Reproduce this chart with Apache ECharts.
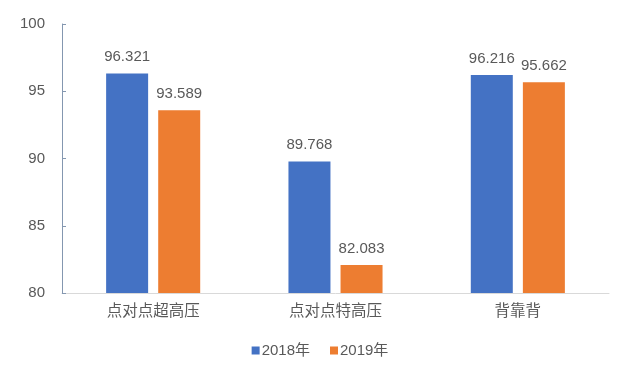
<!DOCTYPE html>
<html><head><meta charset="utf-8">
<script src="https://cdn.jsdelivr.net/npm/echarts@6/dist/echarts.min.js"></script>
<style>html,body{margin:0;padding:0;background:#fff}#c{width:640px;height:365px}</style>
</head><body><div id="c"></div>
<script>
const categories = ['点对点超高压', '点对点特高压', '背靠背'];
const seriesNames = ['2018年', '2019年'];
const values2018 = [96.321, 89.768, 96.216];
const values2019 = [93.589, 82.083, 95.662];
const yTicks = [80, 85, 90, 95, 100];

const FONT = "'Liberation Sans','Noto Sans CJK SC',sans-serif";
const chart = echarts.init(document.getElementById('c'), null, {renderer: 'canvas'});
const lbl = {show: true, position: 'top', distance: 9, color: '#595959', fontSize: 15, fontFamily: FONT,
  formatter: p => p.value.toFixed(3)};
chart.setOption({
  animation: false,
  textStyle: {fontFamily: FONT},
  grid: {left: 62, right: 31, top: 24, bottom: 72, containLabel: false},
  legend: {
    bottom: 2, left: 'center', itemWidth: 8, itemHeight: 8, itemGap: 20, icon: 'rect',
    textStyle: {color: '#595959', fontSize: 15, fontFamily: FONT, padding: [0, 0, 0, -3]},
    data: seriesNames
  },
  xAxis: {
    type: 'category', data: categories,
    axisLine: {lineStyle: {color: '#d9d9d9', width: 1}},
    axisTick: {show: false},
    axisLabel: {color: '#595959', fontSize: 15.5, margin: 11, fontFamily: FONT}
  },
  yAxis: {
    type: 'value', min: yTicks[0], max: yTicks[yTicks.length - 1], interval: 5,
    splitLine: {show: false},
    axisLine: {show: true, lineStyle: {color: '#8497b0', width: 1}},
    axisTick: {show: true, inside: true, length: 4, lineStyle: {color: '#8497b0'}},
    axisLabel: {color: '#595959', fontSize: 15, margin: 17, fontFamily: FONT}
  },
  series: [
    {name: seriesNames[0], type: 'bar', data: values2018, barWidth: 42, barGap: '24%',
     itemStyle: {color: '#4472C4'}, label: lbl},
    {name: seriesNames[1], type: 'bar', data: values2019, barWidth: 42,
     itemStyle: {color: '#ED7D31'}, label: lbl}
  ]
});
</script></body></html>
